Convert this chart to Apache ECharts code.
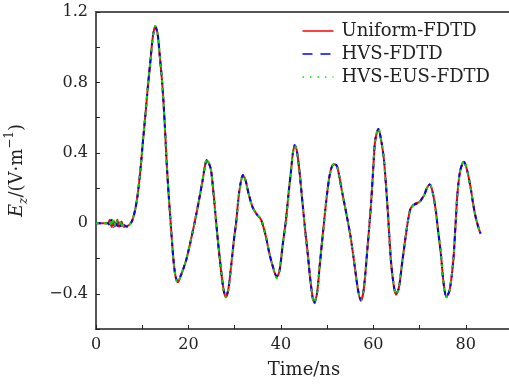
<!DOCTYPE html>
<html>
<head>
<meta charset="utf-8">
<script src="https://cdn.jsdelivr.net/npm/echarts@6/dist/echarts.min.js"></script>
<style>
  html, body { margin: 0; padding: 0; background: #fff; }
  #chart { width: 509px; height: 388px; }
</style>
</head>
<body>
<div id="chart"></div>
<script>
// time axis (ns), shared by all three curves
const times = [
  0, 2.5, 3.0, 3.4, 3.8, 4.2, 4.6, 5.0, 5.5, 6.0,
  6.8, 7.5, 7.9, 8.5, 9.0, 9.6, 10.1, 10.7, 11.2, 11.8,
  12.3, 12.8, 13.3, 13.8, 14.4, 14.9, 15.3, 15.7, 16.0, 16.7,
  17.2, 17.7, 18.3, 19.0, 19.5, 20.4, 21.3, 22.2, 23.1, 23.6,
  24.0, 24.4, 24.9, 25.6, 26.3, 27.2, 27.7, 28.1, 28.6, 29.2,
  29.9, 30.3, 31.0, 31.8, 32.3, 33.0, 33.9, 34.8, 35.5, 36.0,
  36.8, 37.5, 38.2, 39.1, 39.7, 40.4, 41.1, 41.7, 42.2, 42.6,
  43.0, 43.4, 44.0, 44.7, 45.3, 45.8, 46.5, 47.2, 47.8, 48.4,
  49.0, 49.7, 50.4, 51.0, 51.6, 52.2, 53.3, 54.2, 55.1, 56.0,
  56.7, 57.3, 57.9, 58.7, 59.5, 60.0, 60.4, 61.1, 61.7, 62.3,
  63.1, 63.8, 64.4, 64.9, 65.5, 66.3, 67.4, 68.0, 68.5, 69.2,
  69.9, 70.5, 71.0, 71.6, 72.2, 72.8, 73.5, 74.0, 74.6, 75.2,
  75.8, 76.5, 77.3, 77.8, 78.2, 78.8, 79.6, 80.3, 81.0, 81.6,
  82.1, 82.7, 83.2
]

const uniformFdtd = [
  0, 0, 0.02, -0.02, 0.015, -0.015, 0.02, -0.02, 0.01, -0.02,
  -0.015, 0.0, 0.02, 0.08, 0.16, 0.30, 0.45, 0.62, 0.77, 0.93,
  1.06, 1.12, 1.08, 0.95, 0.77, 0.55, 0.34, 0.17, 0.06, -0.19,
  -0.30, -0.335, -0.30, -0.25, -0.21, -0.11, 0.0, 0.12, 0.25, 0.33,
  0.355, 0.34, 0.30, 0.12, -0.08, -0.30, -0.39, -0.42, -0.38, -0.25,
  -0.08, 0.0, 0.18, 0.27, 0.25, 0.17, 0.09, 0.05, 0.03, 0.0,
  -0.08, -0.17, -0.24, -0.305, -0.27, -0.12, 0.02, 0.18, 0.30, 0.40,
  0.44, 0.42, 0.30, 0.11, -0.05, -0.17, -0.35, -0.45, -0.40, -0.24,
  -0.08, 0.10, 0.25, 0.32, 0.335, 0.32, 0.17, 0.05, -0.08, -0.25,
  -0.38, -0.44, -0.38, -0.15, 0.11, 0.32, 0.47, 0.535, 0.47, 0.36,
  0.08, -0.21, -0.35, -0.405, -0.37, -0.21, 0.0, 0.08, 0.10, 0.115,
  0.12, 0.14, 0.16, 0.20, 0.22, 0.18, 0.075, -0.04, -0.17, -0.34,
  -0.42, -0.38, -0.21, 0.0, 0.17, 0.30, 0.35, 0.30, 0.21, 0.11,
  0.04, -0.02, -0.06
]

const hvsFdtd = [
  0, 0, -0.01, 0.02, -0.02, 0.015, -0.015, 0.01, -0.025, -0.01,
  -0.02, 0.0, 0.02, 0.08, 0.16, 0.30, 0.45, 0.62, 0.77, 0.93,
  1.06, 1.115, 1.08, 0.95, 0.77, 0.55, 0.34, 0.17, 0.06, -0.19,
  -0.30, -0.33, -0.30, -0.25, -0.21, -0.11, 0.0, 0.12, 0.25, 0.33,
  0.36, 0.345, 0.30, 0.12, -0.08, -0.30, -0.39, -0.41, -0.38, -0.25,
  -0.08, 0.0, 0.18, 0.275, 0.25, 0.17, 0.09, 0.05, 0.03, 0.0,
  -0.08, -0.17, -0.24, -0.30, -0.27, -0.12, 0.02, 0.18, 0.30, 0.40,
  0.445, 0.42, 0.30, 0.11, -0.05, -0.17, -0.35, -0.455, -0.40, -0.24,
  -0.08, 0.10, 0.25, 0.32, 0.34, 0.32, 0.17, 0.05, -0.08, -0.25,
  -0.38, -0.435, -0.38, -0.15, 0.11, 0.32, 0.47, 0.535, 0.47, 0.36,
  0.08, -0.21, -0.35, -0.40, -0.37, -0.21, 0.0, 0.08, 0.10, 0.11,
  0.115, 0.14, 0.16, 0.20, 0.22, 0.18, 0.075, -0.04, -0.17, -0.34,
  -0.415, -0.38, -0.21, 0.0, 0.17, 0.30, 0.35, 0.30, 0.21, 0.11,
  0.04, -0.02, -0.055
]

const hvsEusFdtd = [
  0, 0, 0.015, -0.015, 0.025, -0.02, 0.015, -0.01, 0.015, -0.015,
  -0.015, 0.0, 0.02, 0.08, 0.16, 0.30, 0.45, 0.62, 0.77, 0.93,
  1.06, 1.12, 1.08, 0.95, 0.77, 0.55, 0.34, 0.17, 0.06, -0.19,
  -0.30, -0.34, -0.30, -0.25, -0.21, -0.11, 0.0, 0.12, 0.25, 0.335,
  0.37, 0.345, 0.30, 0.12, -0.08, -0.30, -0.39, -0.42, -0.38, -0.25,
  -0.08, 0.0, 0.18, 0.27, 0.25, 0.17, 0.09, 0.05, 0.03, 0.0,
  -0.08, -0.17, -0.24, -0.31, -0.27, -0.12, 0.02, 0.18, 0.30, 0.40,
  0.44, 0.42, 0.30, 0.11, -0.05, -0.17, -0.35, -0.45, -0.40, -0.24,
  -0.08, 0.10, 0.25, 0.32, 0.34, 0.32, 0.17, 0.05, -0.08, -0.25,
  -0.38, -0.44, -0.38, -0.15, 0.11, 0.32, 0.47, 0.54, 0.47, 0.36,
  0.08, -0.21, -0.35, -0.405, -0.37, -0.21, 0.0, 0.08, 0.10, 0.115,
  0.12, 0.14, 0.16, 0.20, 0.225, 0.18, 0.075, -0.04, -0.17, -0.34,
  -0.42, -0.38, -0.21, 0.0, 0.17, 0.30, 0.355, 0.30, 0.21, 0.11,
  0.04, -0.02, -0.06
]

const seriesNames = ['Uniform-FDTD', 'HVS-FDTD', 'HVS-EUS-FDTD']
const xLabels = [0, 20, 40, 60, 80]
const yLabels = [-0.4, 0, 0.4, 0.8, 1.2]

const font = 'DejaVu Serif'
const ink = '#222'
const frame = '#555'

const pairs = (vals) => times.map((t, i) => [t, vals[i]])

const fmtY = (v) => {
  const hit = yLabels.find((l) => Math.abs(l - v) < 1e-6)
  if (hit === undefined) return ''
  if (hit === 0) return '0'
  return hit < 0 ? '\u2212' + Math.abs(hit).toFixed(1) : hit.toFixed(1)
}
const fmtX = (v) => (xLabels.some((l) => Math.abs(l - v) < 1e-6) ? String(v) : '')

// legend shows only the line, no marker
const noMarker = { color: 'rgba(0,0,0,0)', borderWidth: 0, opacity: 0 }

const ec = echarts.init(document.getElementById('chart'))

const options = {
  animation: false,
  backgroundColor: '#fff',
  grid: {
    left: 96,
    right: -3,
    top: 12,
    bottom: 59,
    outerBoundsMode: 'none',
    show: true,
    borderColor: frame,
    borderWidth: 2,
  },
  legend: {
    orient: 'vertical',
    right: 14,
    top: 17,
    align: 'left',
    itemWidth: 31,
    itemHeight: 14,
    itemGap: 5,
    textStyle: { fontFamily: font, fontSize: 18, color: ink, padding: [0, 0, 0, 3] },
    data: [
      { name: seriesNames[0], itemStyle: noMarker, lineStyle: { width: 1.5, type: 'solid' } },
      { name: seriesNames[1], itemStyle: noMarker, lineStyle: { width: 1.5, type: [10, 8] } },
      { name: seriesNames[2], itemStyle: noMarker, lineStyle: { width: 1.5, type: [1.5, 6] } },
    ],
  },
  xAxis: {
    type: 'value',
    min: 0,
    max: 90,
    interval: 10,
    name: 'Time/ns',
    nameLocation: 'middle',
    nameGap: 32,
    nameTextStyle: { fontFamily: font, fontSize: 18, color: ink },
    axisLine: { onZero: false, lineStyle: { color: frame, width: 2 } },
    axisTick: { inside: true, length: 4, lineStyle: { color: ink, width: 1 } },
    axisLabel: { fontFamily: font, fontSize: 16, color: ink, margin: 8, formatter: fmtX },
    splitLine: { show: false },
  },
  yAxis: {
    type: 'value',
    min: -0.6,
    max: 1.2,
    interval: 0.2,
    name: '{it|E}{sub|z}{n|/(V\u00b7m}{sup|\u22121}{n|)}',
    nameLocation: 'middle',
    nameRotate: 90,
    nameGap: 66,
    nameTextStyle: {
      fontFamily: font,
      fontSize: 18,
      color: ink,
      rich: {
        it: { fontFamily: font, fontSize: 18, fontStyle: 'italic', color: ink, lineHeight: 26, verticalAlign: 'middle' },
        sub: { fontFamily: font, fontSize: 12, fontStyle: 'italic', color: ink, lineHeight: 26, verticalAlign: 'bottom' },
        n: { fontFamily: font, fontSize: 18, color: ink, lineHeight: 26, verticalAlign: 'middle' },
        sup: { fontFamily: font, fontSize: 12, color: ink, lineHeight: 26, verticalAlign: 'top' },
      },
    },
    axisLine: { onZero: false, lineStyle: { color: frame, width: 2 } },
    axisTick: { inside: true, length: 4, lineStyle: { color: ink, width: 1 } },
    axisLabel: { fontFamily: font, fontSize: 16, color: ink, margin: 8, formatter: fmtY },
    splitLine: { show: false },
  },
  series: [
    {
      name: seriesNames[0],
      type: 'line',
      data: pairs(uniformFdtd),
      symbol: 'none',
      smooth: 0.3,
      color: '#ff0000',
      lineStyle: { color: '#ff0000', width: 2, type: 'solid' },
      z: 2,
    },
    {
      name: seriesNames[1],
      type: 'line',
      data: pairs(hvsFdtd),
      symbol: 'none',
      smooth: 0.3,
      color: '#0000ff',
      lineStyle: { color: '#0000ff', width: 2, type: [5, 4] },
      z: 3,
    },
    {
      name: seriesNames[2],
      type: 'line',
      data: pairs(hvsEusFdtd),
      symbol: 'none',
      smooth: 0.3,
      color: '#00e000',
      lineStyle: { color: '#00e000', width: 2, type: [3, 5] },
      z: 4,
    },
  ],
}
ec.setOption(options)
</script>
</body>
</html>
